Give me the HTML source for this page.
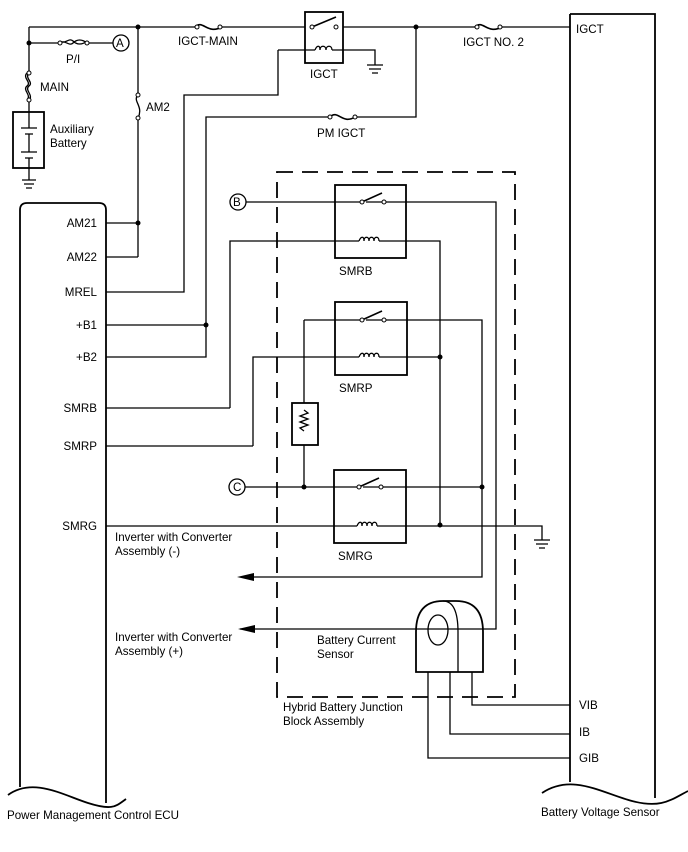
<!DOCTYPE html>
<html><head><style>body{margin:0;background:#fff}svg{display:block}text{font-family:"Liberation Sans",sans-serif;font-size:11.6px;fill:#000}</style></head><body>
<svg width="688" height="852" viewBox="0 0 688 852" xmlns="http://www.w3.org/2000/svg">
<g stroke="#000" stroke-width="1.3" fill="none">
<path d="M29 27H195M222 27H305M343 27H475M502 27H570"/>
<path d="M29 27V73M29 100V112M29 43H60M87 43H113"/>
<path d="M60 43c5-4 9 4 13 0s9-4 14 0M60 41c5 4 9-4 13 0s9 4 14 0"/>
<circle cx="121" cy="43" r="8"/>
<path d="M29 73c-5 5 5 9 0 13s5 9 0 14M27 73c-5 5 5 9 0 13s5 9 0 14"/>
<rect x="13" y="112" width="31" height="56" stroke-width="1.8"/>
<path d="M29 112V128M21 128H37M25 134H33M29 134V152M21 152H37M25 158H33M29 158V180" />
<path d="M22 180H36M24 184H34M26 188H32"/>
<path d="M195 27c8-8 12 8 27 0" stroke-width="1.6"/>
<path d="M138 27V95M138 118V257M138 95c-6 6 6 11 0 23"/>
<path d="M106 223H138M106 257H138"/>
<rect x="305" y="12" width="38" height="51" stroke-width="1.8"/>
<path d="M312 27l24-10" stroke-width="1.6"/>
<path d="M278 50H315M332 50H375V65M367 65H383M369 69H381M372 73H378"/>
<path d="M315 50c2-5 5-5 5 0c0-5 6-5 6 0c0-5 6-5 6 0"/>
<path d="M278 50V95H184V292H106"/>
<path d="M416 27V117H355M330 117H206V357H106M106 325H206"/>
<path d="M330 117c8-8 12 8 25 0" stroke-width="1.6"/>
<path d="M475 27c8-8 12 8 27 0" stroke-width="1.6"/>
<path d="M570 14H655V798M570 14V782" stroke-width="1.8"/>
<path d="M542 793c30-20 60 0 90 8s40-2 56-10" stroke-width="1.8"/>
<path d="M20 787V210q0-7 7-7H99q7 0 7 7V803" stroke-width="1.8"/>
<path d="M8 795c25-18 55 0 80 8s28 3 38-4" stroke-width="1.8"/>
<path d="M277 172H515V697H277Z" stroke-width="1.8" stroke-dasharray="16,9"/>
<rect x="335" y="185" width="71" height="73" stroke-width="1.8"/>
<circle cx="238" cy="202" r="8"/>
<path d="M246 202H360M366 202H496V629H240"/>
<path d="M362 202l20-9" stroke-width="1.6"/>
<path d="M230 408H106M230 408V241H359M379 241H440V525"/>
<path d="M359 241c2-5 5-5 5 0c0-5 5-5 5 0c0-5 5-5 5 0c0-5 5-5 5 0"/>
<rect x="335" y="302" width="72" height="73" stroke-width="1.8"/>
<path d="M304 320H360M366 320H482V577H242M304 320V403M304 445V487"/>
<path d="M362 320l20-9" stroke-width="1.6"/>
<rect x="292" y="403" width="26" height="42" stroke-width="1.8"/>
<path d="M304 410l4 3-8 3 8 3-8 3 8 3-8 3 4 3"/>
<path d="M253 446H106M253 446V357H359M379 357H440"/>
<path d="M359 357c2-5 5-5 5 0c0-5 5-5 5 0c0-5 5-5 5 0c0-5 5-5 5 0"/>
<rect x="334" y="470" width="72" height="73" stroke-width="1.8"/>
<circle cx="237" cy="487" r="8"/>
<path d="M245 487H357M363 487H482"/>
<path d="M359 487l20-9" stroke-width="1.6"/>
<path d="M106 526H357M377 526H542V540M534 540H550M536 544H548M539 548H545"/>
<path d="M357 526c2-5 5-5 5 0c0-5 5-5 5 0c0-5 5-5 5 0c0-5 5-5 5 0"/>
<path d="M416 672V632Q416 601 443 601H456Q483 601 483 632V672Z" stroke-width="1.8"/>
<path d="M443 601Q458 601 458 632V672" stroke-width="1.3"/>
<ellipse cx="438" cy="630" rx="10" ry="15"/>
<path d="M472 672V705H570M450 672V734H570M428 672V758H570"/>
</g>
<g fill="#000">
<circle cx="29" cy="43" r="2.5"/><circle cx="138" cy="27" r="2.5"/><circle cx="416" cy="27" r="2.5"/>
<circle cx="138" cy="223" r="2.5"/><circle cx="206" cy="325" r="2.5"/>
<circle cx="440" cy="357" r="2.5"/><circle cx="440" cy="525" r="2.5"/>
<circle cx="304" cy="487" r="2.5"/><circle cx="482" cy="487" r="2.5"/>
<path d="M237 577l17-4v8z"/><path d="M238 629l17-4v8z"/>
</g>
<g fill="#fff" stroke="#000" stroke-width="1">
<circle cx="29" cy="73" r="2"/><circle cx="29" cy="100" r="2"/><circle cx="60" cy="43" r="2"/><circle cx="87" cy="43" r="2"/>
<circle cx="138" cy="95" r="2"/><circle cx="138" cy="118" r="2"/>
<circle cx="330" cy="117" r="2"/><circle cx="355" cy="117" r="2"/>
<circle cx="197" cy="27" r="2"/><circle cx="220" cy="27" r="2"/>
<circle cx="477" cy="27" r="2"/><circle cx="500" cy="27" r="2"/>
<circle cx="312" cy="27" r="2"/><circle cx="336" cy="27" r="2"/>
<circle cx="362" cy="202" r="2"/><circle cx="384" cy="202" r="2"/>
<circle cx="362" cy="320" r="2"/><circle cx="384" cy="320" r="2"/>
<circle cx="359" cy="487" r="2"/><circle cx="381" cy="487" r="2"/>
</g>
<text x="116" y="47" font-size="12">A</text>
<text x="233" y="206">B</text>
<text x="233" y="491">C</text>
<text x="66" y="63">P/I</text>
<text x="40" y="91">MAIN</text>
<text x="146" y="111">AM2</text>
<text x="50" y="133">Auxiliary</text>
<text x="50" y="147">Battery</text>
<text x="178" y="45">IGCT-MAIN</text>
<text x="310" y="78">IGCT</text>
<text x="463" y="46">IGCT NO. 2</text>
<text x="317" y="137">PM IGCT</text>
<text x="576" y="33">IGCT</text>
<g text-anchor="end">
<text x="97" y="227">AM21</text><text x="97" y="261">AM22</text><text x="97" y="296">MREL</text>
<text x="97" y="329">+B1</text><text x="97" y="361">+B2</text><text x="97" y="412">SMRB</text>
<text x="97" y="450">SMRP</text><text x="97" y="530">SMRG</text>
</g>
<text x="339" y="275">SMRB</text>
<text x="339" y="392">SMRP</text>
<text x="338" y="560">SMRG</text>
<text x="115" y="541">Inverter with Converter</text>
<text x="115" y="555">Assembly (-)</text>
<text x="115" y="641">Inverter with Converter</text>
<text x="115" y="655">Assembly (+)</text>
<text x="317" y="644">Battery Current</text>
<text x="317" y="658">Sensor</text>
<text x="283" y="711">Hybrid Battery Junction</text>
<text x="283" y="725">Block Assembly</text>
<text x="579" y="709">VIB</text>
<text x="579" y="736">IB</text>
<text x="579" y="762">GIB</text>
<text x="7" y="819">Power Management Control ECU</text>
<text x="541" y="816">Battery Voltage Sensor</text>
</svg>
</body></html>
